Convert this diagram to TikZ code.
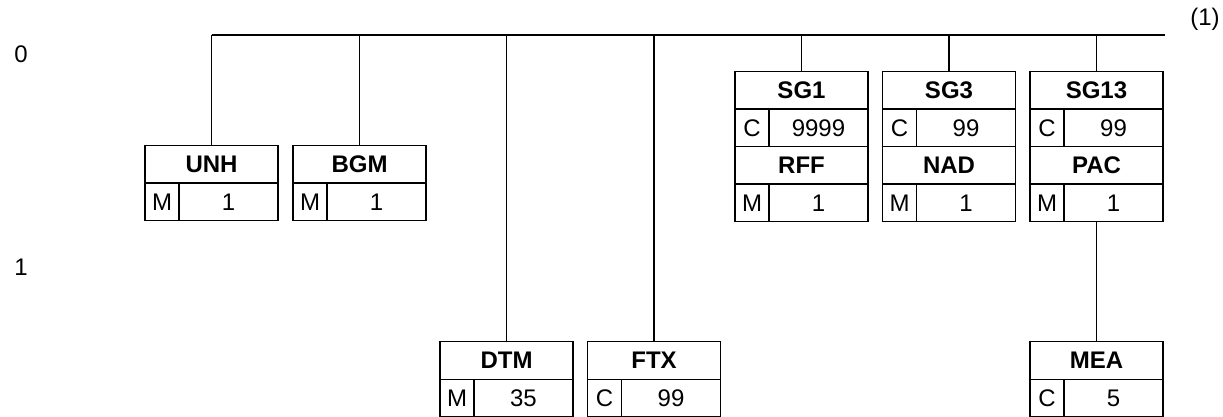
\documentclass[tikz,border=0pt]{standalone}
\usepackage{fontspec}
\setmainfont{Liberation Sans}
\begin{document}
\begin{tikzpicture}[x=0.5pt,y=-0.5pt,
  line width=0.75pt,
  cell/.style={draw, rectangle, inner sep=0pt, outer sep=0pt, minimum height=18.75pt, font=\fontsize{12}{14}\selectfont},
  hdr/.style={cell, minimum width=66.5pt, font=\fontsize{12}{14}\selectfont\bfseries},
  stc/.style={cell, minimum width=17pt, anchor=north west},
  rpc/.style={cell, minimum width=49.5pt, anchor=north west},
  lvl/.style={inner sep=0pt, font=\fontsize{12}{14}\selectfont}]
\useasboundingbox (0,0) rectangle (1223,417);
% level labels
\node[lvl] (l0) at (21,54) {0};
\node[lvl] (l1) at (21,267) {1};
\node[lvl] (note) at (1205,19) {(1)};
% top line
\coordinate (tl) at (211.5,35);
\coordinate (tr) at (1165,35);
\draw (tl) -- (tr);
% level 0 simple segments
\node[hdr] (unh) at (211.5,164.5) {UNH};
\node[stc] (unh-s) at (unh.south west) {M};
\node[rpc] (unh-r) at (unh-s.north east) {1};
\node[hdr] (bgm) at (359.5,164.5) {BGM};
\node[stc] (bgm-s) at (bgm.south west) {M};
\node[rpc] (bgm-r) at (bgm-s.north east) {1};
% level 1 low segments
\node[hdr] (dtm) at (506.5,360.5) {DTM};
\node[stc] (dtm-s) at (dtm.south west) {M};
\node[rpc] (dtm-r) at (dtm-s.north east) {35};
\node[hdr] (ftx) at (654,360.5) {FTX};
\node[stc] (ftx-s) at (ftx.south west) {C};
\node[rpc] (ftx-r) at (ftx-s.north east) {99};
% groups
\node[hdr] (sg1) at (801.5,90.5) {SG1};
\node[stc] (sg1-s) at (sg1.south west) {C};
\node[rpc] (sg1-r) at (sg1-s.north east) {9999};
\node[hdr, anchor=north west] (rff) at (sg1-s.south west) {RFF};
\node[stc] (rff-s) at (rff.south west) {M};
\node[rpc] (rff-r) at (rff-s.north east) {1};
\node[hdr] (sg3) at (949,90.5) {SG3};
\node[stc] (sg3-s) at (sg3.south west) {C};
\node[rpc] (sg3-r) at (sg3-s.north east) {99};
\node[hdr, anchor=north west] (nad) at (sg3-s.south west) {NAD};
\node[stc] (nad-s) at (nad.south west) {M};
\node[rpc] (nad-r) at (nad-s.north east) {1};
\node[hdr] (sg13) at (1096.5,90.5) {SG13};
\node[stc] (sg13-s) at (sg13.south west) {C};
\node[rpc] (sg13-r) at (sg13-s.north east) {99};
\node[hdr, anchor=north west] (pac) at (sg13-s.south west) {PAC};
\node[stc] (pac-s) at (pac.south west) {M};
\node[rpc] (pac-r) at (pac-s.north east) {1};
\node[hdr] (mea) at (1096.5,360.5) {MEA};
\node[stc] (mea-s) at (mea.south west) {C};
\node[rpc] (mea-r) at (mea-s.north east) {5};
% connectors
\foreach \n in {unh,bgm,dtm,ftx,sg1,sg3,sg13}
  \draw (\n.north) -- (\n.north |- tl);
\draw (mea.north) -- (mea.north |- pac-s.south);
\end{tikzpicture}
\end{document}
